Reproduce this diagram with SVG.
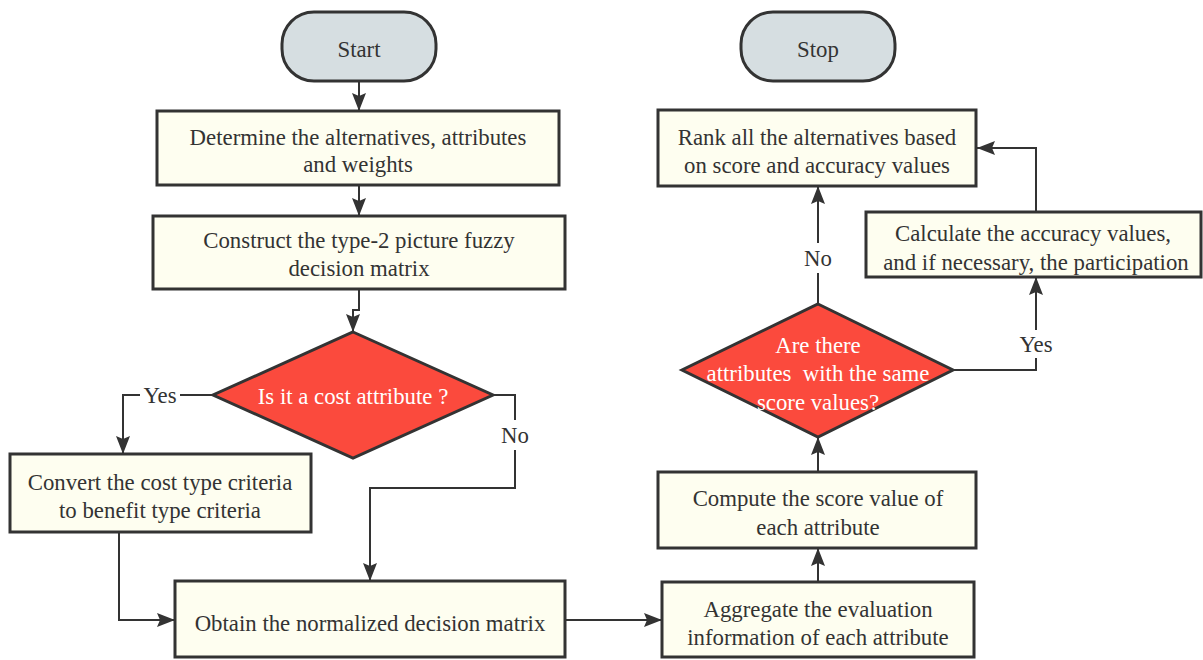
<svg xmlns="http://www.w3.org/2000/svg" width="1203" height="660" viewBox="0 0 1203 660">
<defs>
<style>
.box{fill:#fefef0;stroke:#333;stroke-width:3}
.term{fill:#d6dee1;stroke:#333;stroke-width:3}
.dia{fill:#fb4a3d;stroke:#333;stroke-width:3}
.t{font-family:"Liberation Serif","Times New Roman",serif;font-size:22.8px;fill:#333;text-anchor:middle;dominant-baseline:central}
.tw{font-family:"Liberation Serif","Times New Roman",serif;font-size:22.8px;fill:#fff;text-anchor:middle;dominant-baseline:central}
.c{fill:none;stroke:#333;stroke-width:2;marker-end:url(#ah)}
.lbg{fill:#fff}
</style>
<marker id="ah" viewBox="0 0 18 14" refX="18" refY="7" markerWidth="18" markerHeight="14" markerUnits="userSpaceOnUse" orient="auto">
<path d="M0,0 L18,7 L0,14 L3,7 z" fill="#333"/>
</marker>
</defs>
<rect width="1203" height="660" fill="#fff"/>

<g id="connectors">
<path class="c" d="M359,82 V111"/>
<path class="c" d="M359,185 V216"/>
<path class="c" d="M359,289 V310 H353 V332"/>
<path class="c" d="M213,395 H123 V454"/>
<path class="c" d="M493,395 H515 V488 H370 V581"/>
<path class="c" d="M119,533 V620 H175"/>
<path class="c" d="M565,620 H662"/>
<path class="c" d="M818,582 V548"/>
<path class="c" d="M818,472 V437"/>
<path class="c" d="M818,304 V186"/>
<path class="c" d="M953,370 H1036 V277"/>
<path class="c" d="M1036,212 V148 H977"/>
</g>

<g id="labels">
<rect class="lbg" x="140" y="384" width="40" height="22"/>
<text class="t" x="160" y="395">Yes</text>
<rect class="lbg" x="500" y="420" width="30" height="30"/>
<text class="t" x="515" y="435">No</text>
<rect class="lbg" x="803" y="243" width="30" height="30"/>
<text class="t" x="818" y="258">No</text>
<rect class="lbg" x="1016" y="330" width="40" height="28"/>
<text class="t" x="1036" y="344">Yes</text>
</g>

<g id="start">
<rect class="term" x="282" y="12" width="154" height="69" rx="32"/>
<text class="t" x="359" y="49">Start</text>
</g>

<g id="determine">
<rect class="box" x="157" y="111" width="402" height="74"/>
<text class="t" x="358" y="137">Determine the alternatives, attributes</text>
<text class="t" x="358" y="164">and weights</text>
</g>

<g id="construct">
<rect class="box" x="153" y="216" width="412" height="73"/>
<text class="t" x="359" y="240">Construct the type-2 picture fuzzy</text>
<text class="t" x="359" y="268">decision matrix</text>
</g>

<g id="cost-decision">
<polygon class="dia" points="353,332 493,395 353,458 213,395"/>
<text class="tw" x="353" y="396">Is it a cost attribute ?</text>
</g>

<g id="convert">
<rect class="box" x="10" y="454" width="301" height="78"/>
<text class="t" x="160" y="482">Convert the cost type criteria</text>
<text class="t" x="160" y="510">to benefit type criteria</text>
</g>

<g id="normalize">
<rect class="box" x="175" y="581" width="390" height="76"/>
<text class="t" x="370" y="623">Obtain the normalized decision matrix</text>
</g>

<g id="aggregate">
<rect class="box" x="662" y="582" width="312" height="75"/>
<text class="t" x="818" y="609">Aggregate the evaluation</text>
<text class="t" x="818" y="637">information of each attribute</text>
</g>

<g id="compute">
<rect class="box" x="658" y="472" width="318" height="76"/>
<text class="t" x="818" y="498">Compute the score value of</text>
<text class="t" x="818" y="527">each attribute</text>
</g>

<g id="same-score-decision">
<polygon class="dia" points="818,304 953,370 818,437 682,370"/>
<text class="tw" x="818" y="345">Are there</text>
<text class="tw" x="818" y="373" xml:space="preserve">attributes  with the same</text>
<text class="tw" x="818" y="402">score values?</text>
</g>

<g id="calculate">
<rect class="box" x="866" y="212" width="335" height="65"/>
<text class="t" x="1033" y="233">Calculate the accuracy values,</text>
<text class="t" x="1036" y="262">and if necessary, the participation</text>
</g>

<g id="rank">
<rect class="box" x="658" y="110" width="318" height="76"/>
<text class="t" x="817" y="137">Rank all the alternatives based</text>
<text class="t" x="817" y="165">on score and accuracy values</text>
</g>

<g id="stop">
<rect class="term" x="741" y="12" width="154" height="69" rx="32"/>
<text class="t" x="818" y="49">Stop</text>
</g>
</svg>
